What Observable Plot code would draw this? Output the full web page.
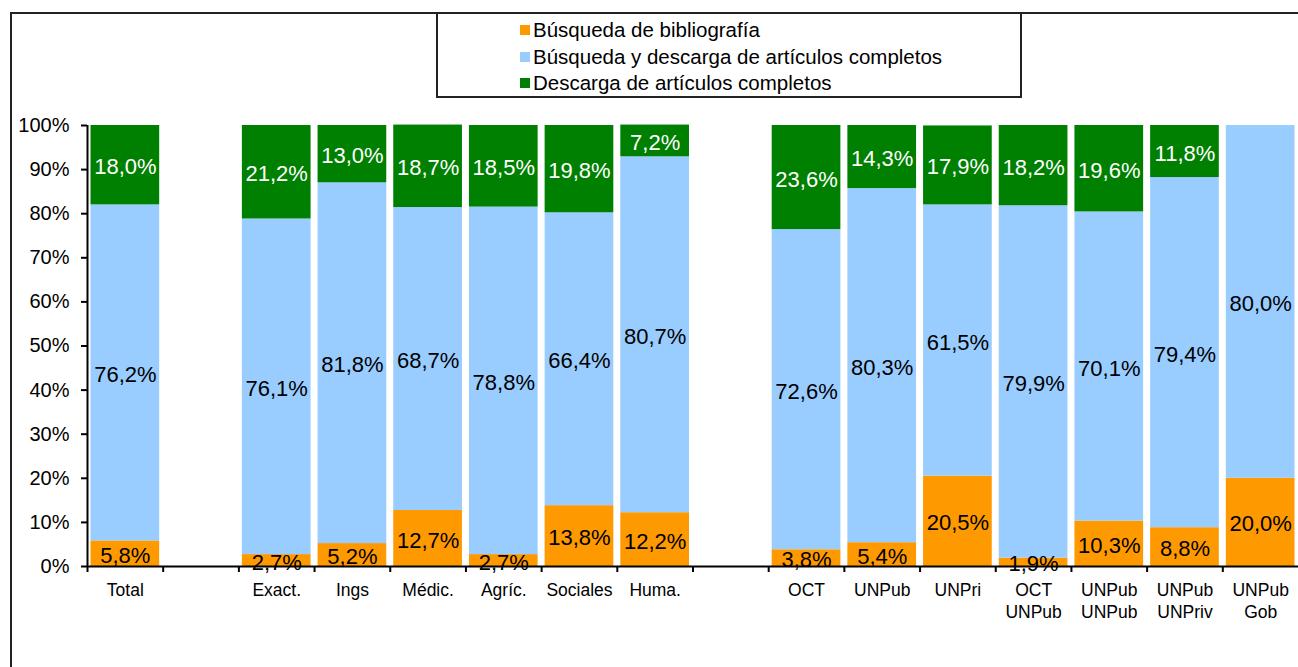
<!DOCTYPE html>
<html>
<head>
<meta charset="utf-8">
<script src="https://cdn.jsdelivr.net/npm/d3@7"></script>
<script src="https://cdn.jsdelivr.net/npm/@observablehq/plot@0.6"></script>
<style>
  html, body { margin: 0; padding: 0; background: #fff; }
  #wrap { position: relative; width: 1298px; height: 667px; overflow: hidden; font-family: "Liberation Sans", Arial, sans-serif; }
  #frame { position: absolute; left: 10px; top: 12px; width: 1400px; height: 800px; border-left: 2px solid #222; border-top: 2px solid #222; box-sizing: border-box; }
  #legend { position: absolute; left: 436px; top: 12px; width: 586px; height: 86px; border: 2px solid #222; box-sizing: border-box; background: #fff; }
  .item { position: absolute; left: 82px; font-size: 20.5px; color: #000; white-space: nowrap; line-height: 20px; }
  .sw { display: inline-block; width: 10px; height: 10px; margin-right: 3px; vertical-align: 2px; }
  #chart { position: absolute; left: 0; top: 0; }
</style>
</head>
<body>
<div id="wrap">
  <div id="frame"></div>
  <div id="chart"></div>
  <div id="legend"></div>
</div>
<script>
// ---- data ----
const categories = ["Total", " ", "Exact.", "Ings", "Médic.", "Agríc.", "Sociales", "Huma.", "  ",
  "OCT", "UNPub", "UNPri", "OCT\nUNPub", "UNPub\nUNPub", "UNPub\nUNPriv", "UNPub\nGob"];
const seriesNames = ["Búsqueda de bibliografía", "Búsqueda y descarga de artículos completos", "Descarga de artículos completos"];
const seriesColors = ["#FF9900", "#99CCFF", "#008000"];
const barCategories = ["Total", "Exact.", "Ings", "Médic.", "Agríc.", "Sociales", "Huma.",
  "OCT", "UNPub", "UNPri", "OCT\nUNPub", "UNPub\nUNPub", "UNPub\nUNPriv", "UNPub\nGob"];
const busqueda   = [5.8, 2.7, 5.2, 12.7, 2.7, 13.8, 12.2, 3.8, 5.4, 20.5, 1.9, 10.3, 8.8, 20.0];
const ambas      = [76.2, 76.1, 81.8, 68.7, 78.8, 66.4, 80.7, 72.6, 80.3, 61.5, 79.9, 70.1, 79.4, 80.0];
const descarga   = [18.0, 21.2, 13.0, 18.7, 18.5, 19.8, 7.2, 23.6, 14.3, 17.9, 18.2, 19.6, 11.8, 0];
const yTicks = [0, 10, 20, 30, 40, 50, 60, 70, 80, 90, 100];

const rows = [];
barCategories.forEach((c, i) => {
  rows.push({cat: c, series: seriesNames[0], value: busqueda[i]});
  rows.push({cat: c, series: seriesNames[1], value: ambas[i]});
  rows.push({cat: c, series: seriesNames[2], value: descarga[i]});
});

const fmt = v => v.toFixed(1).replace(".", ",") + "%";

const W = 1298, H = 667, mL = 87, mR = 0, mT = 125, mB = 101;
const step = (W - mL - mR) / categories.length;
const font = "Liberation Sans, Arial, sans-serif";

const stackOpts = {x: "cat", y: "value", z: "series", order: null};

const chart = Plot.plot({
  width: W, height: H,
  marginLeft: mL, marginRight: mR, marginTop: mT, marginBottom: mB,
  style: {fontFamily: font, background: "transparent", color: "#000"},
  x: {domain: categories, padding: 0, round: false, label: null},
  y: {domain: [0, 100], label: null},
  color: {domain: seriesNames, range: seriesColors},
  marks: [
    Plot.barY(rows, Plot.stackY({...stackOpts, fill: "series", insetLeft: 3.5, insetRight: 3.5})),
    Plot.text(rows, Plot.stackY({...stackOpts,
      text: d => (d.series !== seriesNames[2] && d.value > 0) ? fmt(d.value) : "",
      fill: "#000", fontSize: 22, dy: 2})),
    Plot.text(rows, Plot.stackY({...stackOpts,
      text: d => (d.series === seriesNames[2] && d.value > 0) ? fmt(d.value) : "",
      fill: "#fff", fontSize: 22, dy: 2})),
    Plot.ruleY([0], {stroke: "#000", strokeWidth: 2}),
    Plot.ruleX([categories[0]], {y1: 0, y2: 100, dx: -step / 2, stroke: "#000", strokeWidth: 2}),
    Plot.ruleX(categories, {y1: 0, y2: 0, insetBottom: -6, dx: -step / 2, stroke: "#000", strokeWidth: 2}),
    Plot.axisY({ticks: yTicks, tickFormat: d => d + "%", tickSize: 6, tickPadding: 12, fontSize: 20, strokeWidth: 2}),
    Plot.axisX({tickSize: 0, tickPadding: 13, fontSize: 17.5, lineHeight: 1.3, letterSpacing: 0.4, tickFormat: d => d.trim()})
  ]
});
document.getElementById("chart").appendChild(chart);

// legend
const legend = document.getElementById("legend");
seriesNames.forEach((name, i) => {
  const div = document.createElement("div");
  div.className = "item";
  div.style.top = (6 + i * 26.5) + "px";
  div.innerHTML = `<span class="sw" style="background:${seriesColors[i]}"></span>${name}`;
  legend.appendChild(div);
});
</script>
</body>
</html>
